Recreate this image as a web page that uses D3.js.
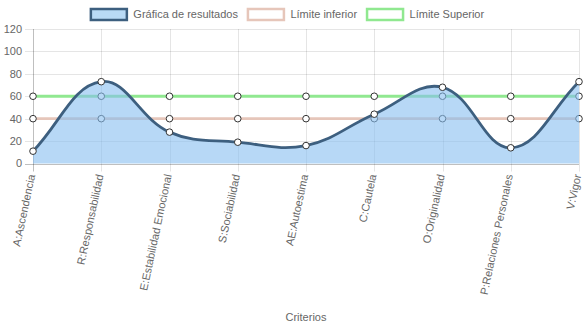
<!DOCTYPE html>
<html><head><meta charset="utf-8">
<script src="https://cdn.jsdelivr.net/npm/d3@7"></script>
<style>body{margin:0;background:#fff} svg{display:block} text{font-family:"Liberation Sans",Arial,Helvetica,sans-serif}</style>
</head><body><svg id="c" width="583" height="328"></svg>
<script>
const categories = ["A:Ascendencia","R:Responsabilidad","E:Estabilidad Emocional","S:Sociabilidad","AE:Autoestima","C:Cautela","O:Originalidad","P:Relaciones Personales","V:Vigor"];
const resultados = [11, 73, 28, 19, 16, 44, 68, 14, 73];
const limiteInferior = [40, 40, 40, 40, 40, 40, 40, 40, 40];
const limiteSuperior = [60, 60, 60, 60, 60, 60, 60, 60, 60];
const yTicks = [0, 20, 40, 60, 80, 100, 120];
const seriesNames = ["Gráfica de resultados", "Límite inferior", "Límite Superior"];
const xTitle = "Criterios";

const W = 583, H = 328;
const L = 33, R = 579, T = 29, B = 163.5;
const FS = 11;
const svg = d3.select("#c");
const x = d3.scalePoint().domain(categories).range([L, R]);
const y = d3.scaleLinear().domain([0, 120]).range([B, T]);

const styles = [
  {stroke: "#3d5f7f", fill: "rgba(135,190,240,0.6)", legendFill: "#b9daf5"},
  {stroke: "#e6c6ba", fill: null, legendFill: "#fff"},
  {stroke: "#90e890", fill: null, legendFill: "#fff"}
];

// grid
const g = svg.append("g");
yTicks.forEach(t => {
  const yy = Math.round(y(t)) + 0.5;
  g.append("line").attr("x1", L - 8).attr("x2", R).attr("y1", yy).attr("y2", yy)
    .attr("stroke", t === 0 ? "rgba(0,0,0,0.25)" : "rgba(0,0,0,0.1)");
  g.append("text").attr("x", L - 11).attr("y", y(t)).attr("dy", "0.35em")
    .attr("text-anchor", "end").attr("font-size", FS).attr("fill", "#666").text(t);
});
categories.forEach((c, i) => {
  const xx = Math.round(x(c)) + 0.5;
  g.append("line").attr("x1", xx).attr("x2", xx).attr("y1", T).attr("y2", B + 8)
    .attr("stroke", i === 0 ? "rgba(0,0,0,0.25)" : "rgba(0,0,0,0.1)");
  g.append("text").attr("transform", `translate(${x(c) - 1},${B + 11}) rotate(-78)`)
    .attr("dy", "0.3em").attr("text-anchor", "end").attr("font-size", FS).attr("fill", "#666").text(c);
});
svg.append("text").attr("x", (L + R) / 2).attr("y", 317).attr("dy", "0.35em")
  .attr("text-anchor", "middle").attr("font-size", FS).attr("fill", "#666").text(xTitle);

// Chart.js-like spline
function splinePoints(vals) {
  const pts = vals.map((v, i) => ({x: x(categories[i]), y: y(v)}));
  const t = 0.4;
  pts.forEach((p, i) => {
    const prev = i > 0 ? pts[i - 1] : p, next = i < pts.length - 1 ? pts[i + 1] : p;
    const d01 = Math.hypot(p.x - prev.x, p.y - prev.y), d12 = Math.hypot(next.x - p.x, next.y - p.y);
    let s01 = d01 / (d01 + d12), s12 = d12 / (d01 + d12);
    if (isNaN(s01)) s01 = 0; if (isNaN(s12)) s12 = 0;
    const fa = t * s01, fb = t * s12;
    const cap = (q) => ({x: Math.max(L, Math.min(R, q.x)), y: Math.max(T, Math.min(B, q.y))});
    p.cp1 = cap({x: p.x - fa * (next.x - prev.x), y: p.y - fa * (next.y - prev.y)});
    p.cp2 = cap({x: p.x + fb * (next.x - prev.x), y: p.y + fb * (next.y - prev.y)});
  });
  return pts;
}
function linePath(pts, close) {
  const p = d3.path();
  p.moveTo(pts[0].x, pts[0].y);
  for (let i = 1; i < pts.length; i++) {
    p.bezierCurveTo(pts[i - 1].cp2.x, pts[i - 1].cp2.y, pts[i].cp1.x, pts[i].cp1.y, pts[i].x, pts[i].y);
  }
  if (close) { p.lineTo(pts[pts.length - 1].x, y(0)); p.lineTo(pts[0].x, y(0)); p.closePath(); }
  return p.toString();
}

const datasets = [resultados, limiteInferior, limiteSuperior];
for (let d = datasets.length - 1; d >= 0; d--) {
  const pts = splinePoints(datasets[d]);
  const st = styles[d];
  if (st.fill) svg.append("path").attr("d", linePath(pts, true)).attr("fill", st.fill);
  svg.append("path").attr("d", linePath(pts, false)).attr("fill", "none")
    .attr("stroke", st.stroke).attr("stroke-width", 2.8);
  pts.forEach(p => svg.append("circle").attr("cx", p.x).attr("cy", p.y).attr("r", 3.3)
    .attr("fill", "#fff").attr("stroke", "#333").attr("stroke-width", 1));
}

// legend
const BW = 38, PAD = 9;
const lg = svg.append("g");
const tmp = lg.append("text").attr("font-size", FS);
const widths = seriesNames.map(n => { tmp.text(n); return tmp.node().getComputedTextLength(); });
tmp.remove();
const itemW = widths.map(w => BW + FS / 2 + w + PAD);
let lx = (W - d3.sum(itemW)) / 2;
seriesNames.forEach((n, i) => {
  lg.append("rect").attr("x", lx + 1).attr("y", 9).attr("width", BW - 2).attr("height", FS)
    .attr("fill", styles[i].legendFill).attr("stroke", styles[i].stroke).attr("stroke-width", 2.5);
  lg.append("text").attr("x", lx + BW + FS / 2).attr("y", 14.5).attr("dy", "0.35em")
    .attr("font-size", FS).attr("fill", "#666").text(n);
  lx += itemW[i];
});
</script></body></html>
